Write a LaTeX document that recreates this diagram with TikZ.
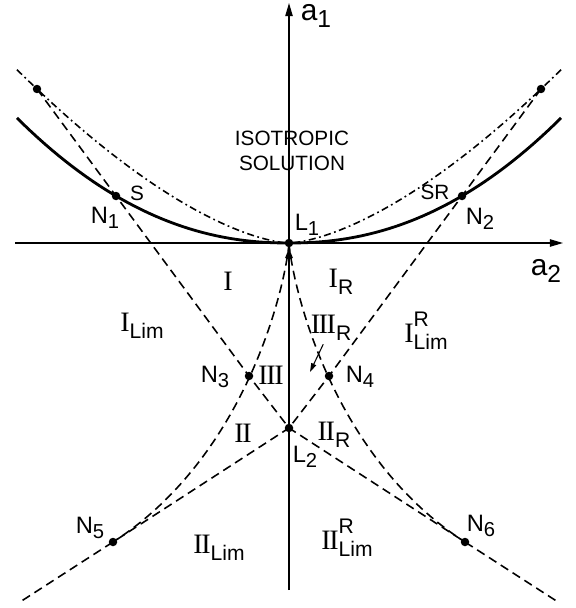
\documentclass[tikz,border=0pt]{standalone}
\usepackage{fontspec}
\usepackage{tikz}
\usetikzlibrary{arrows.meta, positioning}
\setmainfont{Liberation Sans}
\newfontfamily\romfont{Liberation Serif}

\newcommand{\RI}{{\romfont I}}
\newcommand{\RII}{{\romfont I\kern-0.05em I}}
\newcommand{\RIII}{{\romfont I\kern-0.05em I\kern-0.05em I}}
\newcommand{\lsub}[1]{\raisebox{-3pt}{\fontsize{11.5}{11.5}\selectfont #1}}
\newcommand{\asub}[1]{\raisebox{-4pt}{\fontsize{14}{14}\selectfont #1}}
\newcommand{\rsub}[1]{\raisebox{-4pt}{\fontsize{12}{12}\selectfont #1}}
\newcommand{\rsupsub}[2]{\makebox[0pt][l]{\raisebox{9pt}{\fontsize{12}{12}\selectfont #1}}\rsub{#2}}

\begin{document}
\begin{tikzpicture}[
  x=0.02cm, y=-0.02cm,
  dot/.style={circle, fill, inner sep=0pt, minimum size=0.17cm},
  lbl/.style={inner sep=0pt, font=\fontsize{13.5}{15}\selectfont},
  isolbl/.style={inner sep=0pt, align=center, font=\fontsize{11.8}{14.2}\selectfont},
  axlbl/.style={inner sep=0pt, font=\fontsize{17}{18}\selectfont},
  rom/.style={inner sep=0pt, font=\fontsize{16}{17}\selectfont},
  axis/.style={line width=0.75pt, -{Triangle[length=7.5pt, width=4.2pt]}},
  thickline/.style={line width=1.6pt},
  dashline/.style={line width=0.9pt, dash pattern=on 5pt off 3pt},
  dashdot/.style={line width=0.9pt, dash pattern=on 4pt off 2pt on 1pt off 2pt},
  arr/.style={line width=0.6pt, -{Triangle[length=5pt, width=3pt]}}
]
\useasboundingbox (0,0) rectangle (575,608);

% Points
\node[dot] (L1) at (289,243) {};
\node[dot] (L2) at (289,428) {};
\node[dot] (N1) at (116,196) {};
\node[dot] (N2) at (462,196) {};
\node[dot] (N3) at (249,376) {};
\node[dot] (N4) at (329,376) {};
\node[dot] (N5) at (113,542) {};
\node[dot] (N6) at (465,542) {};
\node[dot] (T1) at (37,89) {};
\node[dot] (T2) at (541,89) {};

\coordinate (axL) at (15,243);
\coordinate (axR) at (563,243);
\coordinate (axT) at (289,3);
\coordinate (bot) at (289,590);
\coordinate (E5) at (20,602);
\coordinate (E6) at (558,602);
\coordinate (IIIRtip) at (310,372);

% Labels
\node[lbl] (N1lbl) at (105,218) {N\lsub{1}};
\node[lbl] (N2lbl) at (480,219) {N\lsub{2}};
\node[lbl] (N3lbl) at (215,377) {N\lsub{3}};
\node[lbl] (N4lbl) at (360,377) {N\lsub{4}};
\node[lbl] (N5lbl) at (90,528) {N\lsub{5}};
\node[lbl] (N6lbl) at (481,526) {N\lsub{6}};
\node[lbl] (L1lbl) at (307,225) {L\lsub{1}};
\node[lbl] (L2lbl) at (305,457) {L\lsub{2}};
\node[isolbl] (S) at (137,193) {S};
\node[isolbl] (SR) at (435,192) {SR};
\node[isolbl] (iso) at (292,151) {ISOTROPIC\\SOLUTION};
\node[axlbl] (a1) at (316,16) {a\asub{1}};
\node[axlbl] (a2) at (546,271) {a\asub{2}};

\node[rom] (rI) at (228,281) {\RI};
\node[rom] (rIR) at (341,282) {\RI\rsub{R}};
\node[rom] (rILim) at (142,326) {\RI\rsub{Lim}};
\node[rom] (rILimR) at (426,331) {\RI\rsupsub{R}{Lim}};
\node[rom] (rIII) at (271,375) {\RIII};
\node[rom] (rIIIR) at (331,328) {\RIII\rsub{R}};
\node[rom] (rII) at (243,433) {\RII};
\node[rom] (rIIR) at (334,435) {\RII\rsub{R}};
\node[rom] (rIILim) at (219,548) {\RII\rsub{Lim}};
\node[rom] (rIILimR) at (347,538) {\RII\rsupsub{R}{Lim}};

% Axes
\draw[axis] (axL) -- (axR);
\draw[axis] (L1.center) -- (axT);
\draw[thickline, -{Triangle[length=6pt, width=4pt]}] (bot) -- (L1);

% Curves
\draw[thickline] plot[domain=-272:272, samples=80] ({289+\x}, {243-14.4*(abs(\x)/100)^2.16});
\draw[dashdot] plot[domain=272:0.5, samples=50] ({289-\x}, {243-36.75*(\x/100)^1.55});
\draw[dashdot] plot[domain=272:0.5, samples=50] ({289+\x}, {243-36.75*(\x/100)^1.55});

\draw[dashline] (T1.center) -- (N1.center) -- (N3.center) -- (L2.center) -- (N5.center) -- (E5);
\draw[dashline] (T2.center) -- (N2.center) -- (N4.center) -- (L2.center) -- (N6.center) -- (E6);
\draw[dashline] (L1.center) .. controls (285.6,285.2) and (247,456) .. (N5.center);
\draw[dashline] (L1.center) .. controls (292.4,285.2) and (331,456) .. (N6.center);

% Arrows
\draw[arr, shorten <=2pt] (rIIIR) -- (IIIRtip);

\end{tikzpicture}
\end{document}
